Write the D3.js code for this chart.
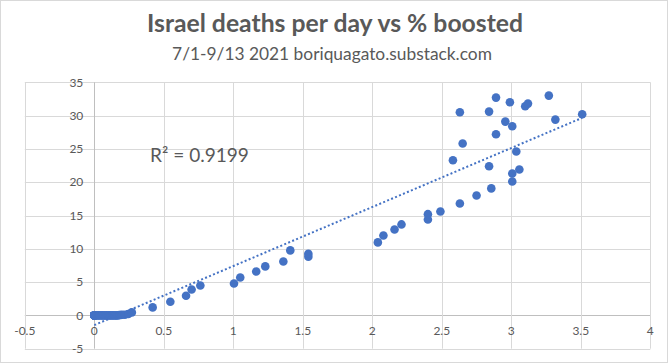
<!DOCTYPE html>
<html><head><meta charset="utf-8">
<script src="https://cdn.jsdelivr.net/npm/d3@7"></script>
<style>body{margin:0;background:#fff}svg{display:block}text{font-family:Lato,"Open Sans",sans-serif;fill:#595959}</style>
</head><body>
<script>
// % boosted (x) and deaths per day (y), 7/1-9/13 2021
const boosted = [0,0,0,0,0,0,0,0,0,0,
  0.01,0.02,0.03,0.04,0.05,0.06,0.07,0.08,0.09,0.10,0.11,0.12,0.13,0.14,0.15,0.16,0.17,0.18,0.19,0.20,0.22,
  0.245,0.27,0.42,0.547,0.66,0.70,0.763,1.005,1.05,1.165,1.23,1.36,1.41,1.54,1.54,
  2.04,2.08,2.16,2.21,2.40,2.40,2.49,
  2.63,2.58,2.65,2.63,2.75,2.84,2.856,2.84,2.89,2.89,2.957,2.99,3.007,3.007,3.007,3.036,3.058,3.10,3.12,3.27,3.317,3.51];
const deaths = [0,0,0,0,0,0,0,0,0,0,
  0,0,0,0,0,0,0,0,0,0,0,0,0,0,0,0,0,0.05,0.05,0.1,0.1,
  0.2,0.45,1.2,2.05,2.95,3.9,4.5,4.8,5.7,6.6,7.36,8.1,9.76,8.8,9.25,
  10.96,12.0,12.9,13.66,14.4,15.2,15.6,
  16.8,23.3,25.8,30.5,18.0,22.4,19.07,30.6,27.2,32.7,29.1,32.0,28.4,21.3,20.1,24.6,21.9,31.4,31.8,33.0,29.4,30.2];
const xTicks = [-0.5,0,0.5,1,1.5,2,2.5,3,3.5,4];
const yTicks = [-5,0,5,10,15,20,25,30,35];
const titleText = "Israel deaths per day vs % boosted";
const subtitleText = "7/1-9/13 2021 boriquagato.substack.com";
const r2Text = "R² = 0.9199";

const W = 669, H = 364;
const svg = d3.select("body").append("svg").attr("width", W).attr("height", H);
svg.append("rect").attr("x",0.5).attr("y",0.5).attr("width",667).attr("height",362)
  .attr("fill","#fff").attr("stroke","#d9d9d9");

const x = d3.scaleLinear().domain([-0.5,4]).range([24.8,650.3]);
const y = d3.scaleLinear().domain([-5,35]).range([348.7,82.3]);

// gridlines
svg.append("g").selectAll("line").data(yTicks).join("line")
  .attr("x1",x(-0.5)).attr("x2",x(4)).attr("y1",d=>Math.round(y(d))+0.5).attr("y2",d=>Math.round(y(d))+0.5)
  .attr("stroke",d=>d===0?"#bfbfbf":"#d9d9d9").attr("stroke-width",1);
svg.append("g").selectAll("line").data(xTicks).join("line")
  .attr("y1",y(-5)).attr("y2",y(35)).attr("x1",d=>Math.round(x(d))+0.5).attr("x2",d=>Math.round(x(d))+0.5)
  .attr("stroke",d=>d===0?"#bfbfbf":"#d9d9d9").attr("stroke-width",1);

// tick labels
svg.append("g").selectAll("text").data(yTicks).join("text")
  .attr("x",x(0)-11).attr("y",d=>y(d)).attr("dy","0.35em").attr("text-anchor","end")
  .style("font-size","12px").text(d=>d);
svg.append("g").selectAll("text").data(xTicks).join("text")
  .attr("x",d=>x(d)).attr("y",y(0)+15).attr("dy","0.35em").attr("text-anchor","middle")
  .style("font-size","12px").text(d=>d);

// trendline (least squares)
const n = boosted.length;
const mx = d3.mean(boosted), my = d3.mean(deaths);
let sxy=0,sxx=0; for(let i=0;i<n;i++){sxy+=(boosted[i]-mx)*(deaths[i]-my);sxx+=(boosted[i]-mx)**2;}
const slope = sxy/sxx, icpt = my-slope*mx;
const x0 = d3.min(boosted), x1 = d3.max(boosted);
svg.append("line").attr("x1",x(x0)).attr("y1",y(icpt+slope*x0)).attr("x2",x(x1)).attr("y2",y(icpt+slope*x1))
  .attr("stroke","#4472C4").attr("stroke-width",2).attr("stroke-dasharray","2,2.3");

// points
svg.append("g").selectAll("circle").data(boosted.map((b,i)=>[b,deaths[i]])).join("circle")
  .attr("cx",d=>x(d[0])).attr("cy",d=>y(d[1])).attr("r",4.3).attr("fill","#4472C4");

function fit(t, target){ const l=t.node().getComputedTextLength(); const fs=parseFloat(t.style("font-size")); t.style("font-size",(fs*target/l)+"px"); }
const tt = svg.append("text").attr("x",335).attr("y",32).attr("text-anchor","middle").style("font-size","22px").style("font-weight","bold").text(titleText);
fit(tt,376);
const st = svg.append("text").attr("x",332).attr("y",60).attr("text-anchor","middle").style("font-size","17px").text(subtitleText);
fit(st,320);
const rt = svg.append("text").attr("x",150).attr("y",162).style("font-size","17px").text(r2Text);
fit(rt,99);
</script>
</body></html>
